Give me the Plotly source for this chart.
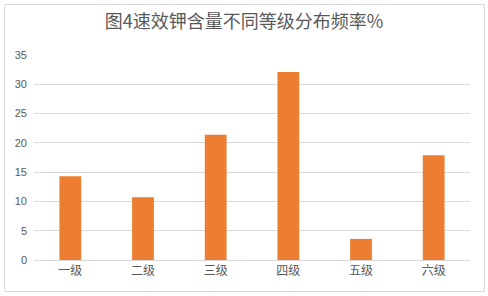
import plotly.graph_objects as go

categories = ["一级", "二级", "三级", "四级", "五级", "六级"]
values = [14.3, 10.7, 21.4, 32.1, 3.6, 17.9]
y_ticks = [0, 5, 10, 15, 20, 25, 30, 35]

W, H = 488, 296
L, R, T, B = 34, 18, 55, 36
pw, ph = W - L - R, H - T - B

def px_x(px):
    return (px - L) / pw

def px_y(py):
    return (H - B - py) / ph

fig = go.Figure(
    go.Bar(
        x=categories,
        y=values,
        marker=dict(color="#ED7D31", line=dict(width=0)),
        hoverinfo="x+y",
    )
)

fig.update_layout(
    width=W,
    height=H,
    margin=dict(l=L, r=R, t=T, b=B),
    paper_bgcolor="white",
    plot_bgcolor="white",
    bargap=0.7,
    showlegend=False,
    font=dict(family="Noto Sans CJK SC, sans-serif", color="#595959"),
    title=dict(
        text="图4速效钾含量不同等级分布频率%",
        x=0.5,
        xanchor="center",
        y=1 - 22 / H,
        yanchor="middle",
        font=dict(size=18, color="#595959"),
    ),
    xaxis=dict(
        showgrid=False,
        showline=True,
        linecolor="#d9d9d9",
        linewidth=1,
        ticks="",
        tickfont=dict(size=12, color="#595959"),
        fixedrange=True,
    ),
    yaxis=dict(
        range=[0, 35],
        tickvals=y_ticks,
        showgrid=True,
        gridcolor="#d9d9d9",
        gridwidth=1,
        zeroline=False,
        showline=False,
        ticks="",
        ticklabelstandoff=6,
        tickfont=dict(size=11, color="#595959", family="Liberation Sans, Arial, sans-serif"),
        fixedrange=True,
    ),
    shapes=[
        dict(
            type="rect",
            xref="paper",
            yref="paper",
            x0=px_x(4.5),
            x1=px_x(484.5),
            y0=px_y(291.5),
            y1=px_y(4.5),
            line=dict(color="#d9d9d9", width=1),
            fillcolor="rgba(0,0,0,0)",
            layer="below",
        )
    ],
)

fig.write_html("out.html")
